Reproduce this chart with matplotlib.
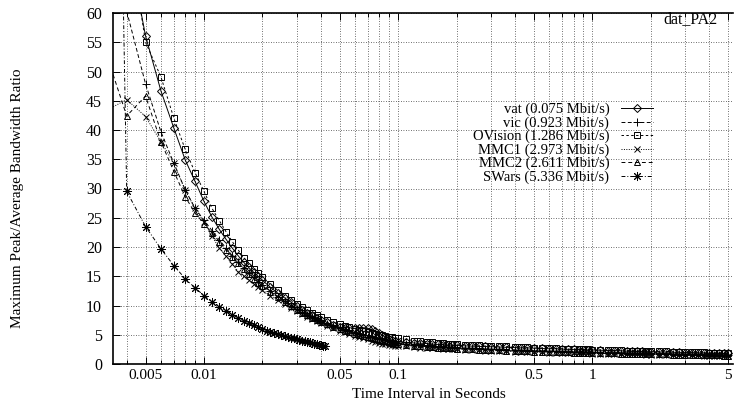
import matplotlib
matplotlib.use("Agg")
import matplotlib.pyplot as plt
from matplotlib.ticker import LogLocator, NullFormatter

plt.rcParams['font.family'] = ['Liberation Serif', 'DejaVu Serif']

# time intervals (s) shared by the five long traces
intervals = [0.003, 0.004, 0.005, 0.006, 0.007, 0.008, 0.009, 0.010, 0.011, 0.012,
             0.013, 0.014, 0.015, 0.016, 0.017, 0.018, 0.019, 0.020, 0.022, 0.024,
             0.026, 0.028, 0.030, 0.032, 0.034, 0.036, 0.038, 0.040, 0.043, 0.046,
             0.050, 0.053, 0.056, 0.060, 0.063, 0.066, 0.070, 0.073, 0.076, 0.080,
             0.083, 0.086, 0.090, 0.093, 0.096, 0.100,
             0.11, 0.12, 0.13, 0.14, 0.15, 0.16, 0.17, 0.18, 0.19, 0.20,
             0.22, 0.24, 0.26, 0.28, 0.30,
             0.33, 0.36, 0.40, 0.43, 0.46, 0.50, 0.55, 0.60, 0.65, 0.70,
             0.75, 0.80, 0.85, 0.90, 0.95, 1.0,
             1.1, 1.2, 1.3, 1.4, 1.5, 1.6, 1.7, 1.8, 1.9, 2.0,
             2.2, 2.4, 2.6, 2.8, 3.0,
             3.25, 3.5, 3.75, 4.0, 4.25, 4.5, 4.75, 5.0]

vat = [100, 73, 56.1, 46.7, 40.3, 34.9, 31.2, 27.8, 25.1, 23.0,
       21.3, 19.8, 18.5, 17.4, 16.5, 15.7, 15.0, 14.3, 13.1, 12.1,
       11.3, 10.6, 9.9, 9.3, 8.8, 8.3, 7.9, 7.6, 7.1, 6.7,
       6.3, 6.2, 6.2, 6.1, 6.1, 6.2, 6.1, 5.9, 5.7, 5.3,
       4.9, 4.6, 4.3, 4.1, 3.9, 3.8,
       3.7, 3.6, 3.55, 3.5, 3.4, 3.35, 3.3, 3.25, 3.2, 3.2,
       3.1, 3.05, 3.0, 3.0, 2.95,
       2.9, 2.85, 2.8, 2.75, 2.75, 2.7, 2.65, 2.6, 2.6, 2.55,
       2.5, 2.5, 2.45, 2.45, 2.4, 2.4,
       2.35, 2.3, 2.3, 2.25, 2.2, 2.2, 2.15, 2.15, 2.1, 2.1,
       2.05, 2.05, 2.0, 2.0, 1.95,
       1.95, 1.9, 1.9, 1.85, 1.85, 1.85, 1.8, 1.8]

vic = [78, 60.3, 47.9, 39.7, 34.3, 29.8, 26.6, 24.6, 22.8, 21.2,
       19.8, 18.5, 17.4, 16.4, 15.6, 14.8, 14.1, 13.5, 12.4, 11.5,
       10.7, 10.0, 9.4, 8.9, 8.4, 8.0, 7.6, 7.3, 6.9, 6.5,
       6.1, 5.8, 5.6, 5.3, 5.1, 4.9, 4.7, 4.6, 4.5, 4.3,
       4.2, 4.1, 3.9, 3.8, 3.7, 3.6,
       3.45, 3.3, 3.2, 3.1, 3.0, 2.95, 2.9, 2.85, 2.8, 2.8,
       2.7, 2.65, 2.6, 2.55, 2.5,
       2.45, 2.45, 2.4, 2.35, 2.3, 2.25, 2.25, 2.2, 2.2, 2.15,
       2.1, 2.1, 2.05, 2.05, 2.0, 2.0,
       1.95, 1.95, 1.9, 1.9, 1.85, 1.85, 1.85, 1.8, 1.8, 1.8,
       1.75, 1.75, 1.7, 1.7, 1.7,
       1.65, 1.65, 1.6, 1.6, 1.6, 1.6, 1.55, 1.55]

ovision = [95, 76, 55.0, 49.1, 42.0, 36.7, 32.7, 29.5, 26.6, 24.5,
           22.6, 20.9, 19.5, 18.2, 17.2, 16.3, 15.5, 14.8, 13.6, 12.6,
           11.7, 10.9, 10.2, 9.7, 9.2, 8.8, 8.4, 8.0, 7.6, 7.2,
           6.8, 6.5, 6.3, 6.0, 5.8, 5.6, 5.4, 5.3, 5.1, 5.0,
           4.9, 4.8, 4.7, 4.6, 4.5, 4.4,
           4.2, 4.0, 3.9, 3.8, 3.7, 3.6, 3.55, 3.5, 3.45, 3.4,
           3.3, 3.25, 3.2, 3.15, 3.1,
           3.05, 3.0, 2.9, 2.9, 2.85, 2.8, 2.75, 2.7, 2.65, 2.6,
           2.6, 2.55, 2.55, 2.5, 2.5, 2.45,
           2.4, 2.4, 2.35, 2.35, 2.3, 2.3, 2.25, 2.25, 2.2, 2.2,
           2.15, 2.15, 2.1, 2.1, 2.05,
           2.05, 2.0, 2.0, 1.95, 1.95, 1.95, 1.9, 1.9]

mmc1 = [43, 45.2, 42.3, 38.0, 34.3, 29.7, 26.6, 24.3, 21.8, 19.8,
        18.4, 17.1, 15.8, 15.0, 14.3, 13.7, 13.1, 12.6, 11.7, 10.9,
        10.2, 9.6, 9.0, 8.5, 8.1, 7.7, 7.3, 7.0, 6.5, 6.1,
        5.7, 5.4, 5.1, 4.8, 4.6, 4.4, 4.2, 4.0, 3.8, 3.6,
        3.5, 3.4, 3.3, 3.2, 3.15, 3.1,
        3.0, 2.9, 2.8, 2.75, 2.7, 2.65, 2.6, 2.55, 2.5, 2.5,
        2.45, 2.4, 2.35, 2.3, 2.3,
        2.25, 2.2, 2.1, 2.1, 2.05, 2.0, 2.0, 1.95, 1.95, 1.9,
        1.9, 1.85, 1.85, 1.8, 1.8, 1.75,
        1.75, 1.7, 1.7, 1.7, 1.65, 1.65, 1.65, 1.65, 1.6, 1.6,
        1.6, 1.55, 1.55, 1.5, 1.5,
        1.5, 1.5, 1.45, 1.45, 1.45, 1.45, 1.4, 1.4]

mmc2 = [55, 42.4, 45.8, 38.0, 32.9, 28.6, 25.8, 24.0, 22.4, 20.9,
        19.5, 18.3, 17.2, 16.2, 15.4, 14.6, 13.9, 13.3, 12.3, 11.4,
        10.6, 9.9, 9.3, 8.8, 8.3, 7.9, 7.5, 7.2, 6.8, 6.4,
        6.0, 5.7, 5.5, 5.2, 5.0, 4.8, 4.6, 4.4, 4.3, 4.1,
        4.0, 3.9, 3.7, 3.6, 3.5, 3.4,
        3.25, 3.1, 3.0, 2.95, 2.9, 2.8, 2.75, 2.7, 2.65, 2.6,
        2.55, 2.5, 2.45, 2.45, 2.4,
        2.35, 2.3, 2.2, 2.2, 2.15, 2.1, 2.1, 2.05, 2.05, 2.0,
        2.0, 1.95, 1.95, 1.9, 1.9, 1.85,
        1.85, 1.8, 1.8, 1.75, 1.75, 1.75, 1.7, 1.7, 1.7, 1.7,
        1.65, 1.65, 1.6, 1.6, 1.6,
        1.55, 1.55, 1.5, 1.5, 1.5, 1.5, 1.45, 1.45]

# SWars trace only runs up to 0.042 s
swars_intervals = [0.003, 0.004, 0.005, 0.006, 0.007, 0.008, 0.009, 0.010, 0.011, 0.012,
                   0.013, 0.014, 0.015, 0.016, 0.017, 0.018, 0.019, 0.020, 0.021, 0.022,
                   0.023, 0.024, 0.025, 0.026, 0.027, 0.028, 0.029, 0.030, 0.031, 0.032,
                   0.033, 0.034, 0.035, 0.036, 0.037, 0.038, 0.039, 0.040, 0.041, 0.042]
swars = [260, 29.5, 23.5, 19.7, 16.8, 14.6, 13.0, 11.7, 10.6, 9.8,
         9.0, 8.4, 7.9, 7.4, 7.0, 6.6, 6.3, 6.0, 5.7, 5.5,
         5.3, 5.1, 4.9, 4.8, 4.6, 4.5, 4.4, 4.3, 4.1, 4.0,
         3.9, 3.8, 3.7, 3.6, 3.5, 3.4, 3.3, 3.2, 3.1, 3.0]

labels = ['vat (0.075 Mbit/s)', 'vic (0.923 Mbit/s)', 'OVision (1.286 Mbit/s)',
          'MMC1 (2.973 Mbit/s)', 'MMC2 (2.611 Mbit/s)', 'SWars (5.336 Mbit/s)']

xtick_vals = [0.005, 0.01, 0.05, 0.1, 0.5, 1, 5]
xtick_labels = ['0.005', '0.01', '0.05', '0.1', '0.5', '1', '5']

series = [
    (intervals, vat, 'D', '-', 4.5),
    (intervals, vic, '+', (0, (4, 2.5)), 6),
    (intervals, ovision, 's', (0, (2.5, 2.5)), 5),
    (intervals, mmc1, 'x', (0, (1, 1.5)), 5),
    (intervals, mmc2, '^', (0, (4, 3)), 5),
    (swars_intervals, swars, (8, 2, 0), (0, (4, 2, 1, 2)), 6.5),
]

fig = plt.figure(figsize=(7.34, 4.01), dpi=100)
ax = fig.add_axes([113 / 734, 1 - 364 / 401, 620 / 734, 351 / 401])

for (xs, ys, mk, ls, ms), lab in zip(series, labels):
    ax.plot(xs, ys, color='black', linestyle=ls, linewidth=0.7,
            marker=mk, markersize=ms, markerfacecolor='none',
            markeredgecolor='black', markeredgewidth=0.7, label=lab)

ax.set_xscale('log')
ax.set_xlim(0.0034, 5.3)
ax.set_ylim(0, 60)
ax.set_xticks(xtick_vals)
ax.set_xticklabels(xtick_labels)
ax.xaxis.set_minor_locator(LogLocator(base=10, subs=range(2, 10), numticks=20))
ax.xaxis.set_minor_formatter(NullFormatter())
ax.set_yticks(range(0, 61, 5))

ax.grid(True, which='both', axis='x', color='0.25', linestyle=(0, (1, 2)), linewidth=0.6)
ax.grid(True, which='major', axis='y', color='0.25', linestyle=(0, (1, 2)), linewidth=0.6)

ax.tick_params(axis='both', which='both', direction='in', top=True, right=False,
               width=0.7, labelsize=11.5)
ax.tick_params(axis='x', which='major', length=5, pad=3.5, labelsize=11)
ax.tick_params(axis='x', which='minor', length=3)
ax.tick_params(axis='y', which='major', length=5, pad=8)

for side in ['left', 'bottom', 'top']:
    ax.spines[side].set_linewidth(1.2)
ax.spines['right'].set_visible(False)

leg = ax.legend(loc='upper right', bbox_to_anchor=(653 / 734, 1 - 103 / 401),
                bbox_transform=fig.transFigure, frameon=False, fontsize=10.5,
                markerfirst=False, handlelength=2.2, handletextpad=0.8,
                labelspacing=0.0, borderpad=0, borderaxespad=0, numpoints=1)

fig.text(429 / 734, 1 - 398 / 401, 'Time Interval in Seconds', ha='center',
         va='baseline', fontsize=11)
fig.text(18 / 734, 1 - 198 / 401, 'Maximum Peak/Average Bandwidth Ratio',
         rotation=90, ha='center', va='center', fontsize=11)
fig.text(718 / 734, 1 - 22.7 / 401, 'dat_PA2', ha='right', va='baseline', fontsize=11.5)

fig.savefig('out.png', dpi=100)
